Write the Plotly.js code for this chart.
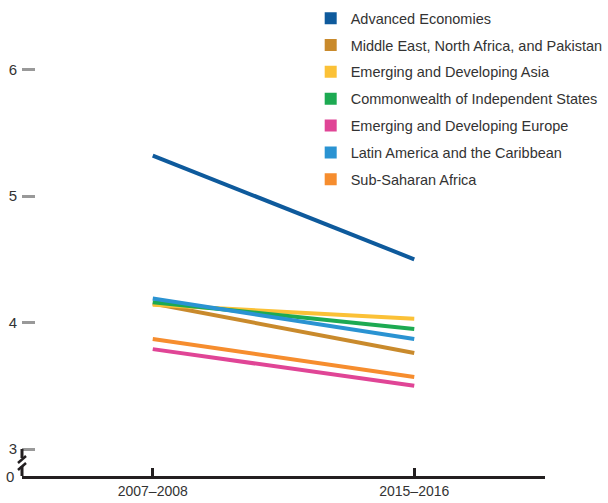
<!DOCTYPE html>
<html>
<head>
<meta charset="utf-8">
<script src="https://cdn.plot.ly/plotly-3.0.1.min.js"></script>
<style>html,body{margin:0;padding:0;background:#fff;}#chart{width:608px;height:503px;}</style>
</head>
<body>
<div id="chart"></div>
<script>
const periods = ["2007\u20132008", "2015\u20132016"];
const seriesNames = [
  "Advanced Economies",
  "Middle East, North Africa, and Pakistan",
  "Emerging and Developing Asia",
  "Commonwealth of Independent States",
  "Emerging and Developing Europe",
  "Latin America and the Caribbean",
  "Sub-Saharan Africa"
];
const advanced = [5.32, 4.50];
const middleEast = [4.15, 3.76];
const devAsia = [4.14, 4.03];
const cis = [4.16, 3.95];
const devEurope = [3.79, 3.50];
const latAm = [4.19, 3.87];
const subSaharan = [3.87, 3.57];
const yTicks = [3, 4, 5, 6];
const yTickText = ["3", "4", "5", "6"];
const axisZeroLabel = "0";

const colors = ["#0e5a9c", "#c98a2c", "#fbc137", "#1daa52", "#e04596", "#2a93d2", "#f68d2e"];
const values = [advanced, middleEast, devAsia, cis, devEurope, latAm, subSaharan];

const font = "'Liberation Sans Narrow', 'Arial Narrow', 'Liberation Sans', sans-serif";
const yMin = 2.787, yMax = 6.392;

const traces = [];
values.forEach((v, i) => {
  traces.push({
    x: periods, y: v, type: "scatter", mode: "lines",
    line: {color: colors[i], width: 4},
    showlegend: false, hoverinfo: "skip"
  });
});
seriesNames.forEach((n, i) => {
  traces.push({
    x: [null], y: [null], type: "scatter", mode: "markers", name: n,
    legendgroup: "g" + i,
    marker: {symbol: "square", size: 12, color: colors[i]},
    showlegend: true
  });
});

const layout = {
  width: 608, height: 503,
  margin: {l: 22, r: 63, t: 20, b: 27, autoexpand: false},
  paper_bgcolor: "#fff", plot_bgcolor: "#fff",
  font: {family: font, color: "#333", size: 14},
  showlegend: true,
  legend: {
    x: 0.552, y: 1.039, xanchor: "left", yanchor: "top",
    font: {family: font, size: 14.5, color: "#333"},
    tracegroupgap: 5, bgcolor: "rgba(0,0,0,0)"
  },
  xaxis: {
    type: "category", range: [-0.5, 1.5],
    showline: true, linecolor: "#231f20", linewidth: 3,
    ticks: "inside", ticklen: 8, tickwidth: 3, tickcolor: "#231f20",
    showgrid: false, zeroline: false, fixedrange: true,
    tickfont: {family: font, size: 14, color: "#333"}
  },
  yaxis: {
    range: [yMin, yMax], tickvals: yTicks, ticktext: yTickText,
    showline: false, showgrid: false, zeroline: false,
    ticks: "inside", ticklen: 13, tickwidth: 3, tickcolor: "#999",
    ticklabelstandoff: 4,
    tickfont: {family: font, size: 15, color: "#333"}, fixedrange: true
  },
  annotations: [{
    text: axisZeroLabel, xref: "paper", yref: "y", x: 0, y: yMin,
    xanchor: "right", yanchor: "middle", xshift: -6, showarrow: false,
    font: {family: font, size: 15, color: "#333"}
  }],
  shapes: [
    {type: "line", xref: "paper", yref: "paper", xsizemode: "pixel", ysizemode: "pixel",
     xanchor: 0, yanchor: 0, x0: 0, x1: 0, y0: 27, y1: 18, line: {color: "#231f20", width: 3}},
    {type: "line", xref: "paper", yref: "paper", xsizemode: "pixel", ysizemode: "pixel",
     xanchor: 0, yanchor: 0, x0: -4, x1: 4, y0: 13, y1: 20, line: {color: "#231f20", width: 2.5}},
    {type: "line", xref: "paper", yref: "paper", xsizemode: "pixel", ysizemode: "pixel",
     xanchor: 0, yanchor: 0, x0: -4, x1: 4, y0: 6, y1: 13, line: {color: "#231f20", width: 2.5}},
    {type: "line", xref: "paper", yref: "paper", xsizemode: "pixel", ysizemode: "pixel",
     xanchor: 0, yanchor: 0, x0: 0, x1: 0, y0: 10, y1: 0, line: {color: "#231f20", width: 3}}
  ]
};

Plotly.newPlot("chart", traces, layout, {displayModeBar: false, staticPlot: true});
</script>
</body>
</html>
